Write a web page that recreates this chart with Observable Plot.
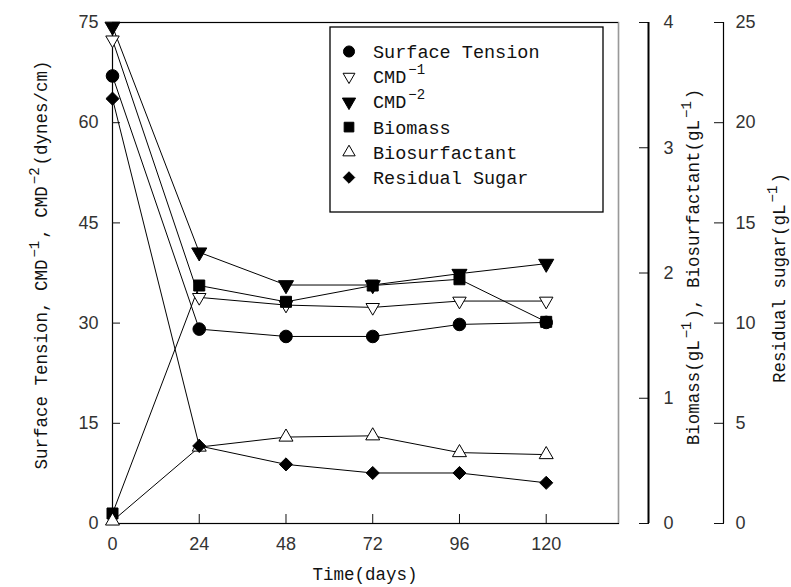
<!DOCTYPE html>
<html><head><meta charset="utf-8">
<script src="https://cdn.jsdelivr.net/npm/d3@7"></script>
<script src="https://cdn.jsdelivr.net/npm/@observablehq/plot@0.6"></script>
<style>
body{margin:0;background:#fff;}
#chart{width:791px;height:587px;}
</style></head><body><div id="chart"></div>
<script>
// ---- data ----
const days = [0, 24, 48, 72, 96, 120];
const surfaceTension = [67.0, 29.1, 28.0, 28.0, 29.8, 30.1];      // dynes/cm
const cmd1 = [72.4, 33.85, 32.7, 32.35, 33.3, 33.3];               // dynes/cm
const cmd2 = [74.4, 40.6, 35.7, 35.7, 37.4, 38.9];                 // dynes/cm
const biomass = [0.08, 1.9, 1.77, 1.9, 1.95, 1.61];                // g/L
const biosurfactant = [0.02, 0.61, 0.69, 0.70, 0.566, 0.55];       // g/L
const residualSugar = [21.2, 3.87, 2.95, 2.52, 2.52, 2.03];        // g/L

const seriesNames = ["Surface Tension", "CMD-1", "CMD-2", "Biomass", "Biosurfactant", "Residual Sugar"];
const xTicks = [0, 24, 48, 72, 96, 120];
const leftTicks = [0, 15, 30, 45, 60, 75];
const biomassTicks = [0, 1, 2, 3, 4];
const sugarTicks = [0, 5, 10, 15, 20, 25];

// conversion of right-axis units to the left (primary) scale
const leftMax = 75, bioMax = 4, sugarMax = 25;
const bioK = leftMax / bioMax, sugarK = leftMax / sugarMax;

const seriesValues = [
  surfaceTension, cmd1, cmd2,
  biomass.map(v => v * bioK),
  biosurfactant.map(v => v * bioK),
  residualSugar.map(v => v * sugarK)
];

const styles = {
  "Surface Tension": {symbol: "circle", fill: "black", stroke: "black", rotate: 0, r: 6.3},
  "CMD-1": {symbol: "triangle", fill: "white", stroke: "black", rotate: 180, r: 5},
  "CMD-2": {symbol: "triangle", fill: "black", stroke: "black", rotate: 180, r: 5.6},
  "Biomass": {symbol: "square", fill: "black", stroke: "black", rotate: 0, r: 6.2},
  "Biosurfactant": {symbol: "triangle", fill: "white", stroke: "black", rotate: 0, r: 5.2},
  "Residual Sugar": {symbol: "diamond2", fill: "black", stroke: "black", rotate: 0, r: 5.9}
};

const rows = [];
seriesNames.forEach((s, i) => days.forEach((d, j) => rows.push({series: s, day: d, v: seriesValues[i][j]})));

const numFont = "Liberation Sans";
const labFont = "Liberation Mono";

const dotMarks = seriesNames.map(s => {
  const st = styles[s];
  return Plot.dot(rows.filter(r => r.series === s), {
    x: "day", y: "v", symbol: st.symbol, fill: st.fill, stroke: st.stroke,
    strokeWidth: 1, r: st.r, rotate: st.rotate
  });
});

const svg = Plot.plot({
  width: 791, height: 587,
  marginLeft: 112, marginRight: 173, marginTop: 22, marginBottom: 64,
  style: {fontFamily: numFont, background: "white", color: "#111"},
  x: {domain: [0, 140]},
  y: {domain: [0, leftMax]},
  marks: [
    Plot.frame({stroke: "black", strokeWidth: 1.2}),
    Plot.ruleX([140], {stroke: "#999", strokeWidth: 1.2}),
    Plot.axisX({ticks: xTicks, tickSize: -9, tickPadding: 23, fontSize: 18, label: null, fill: "#333"}),
    Plot.axisY({ticks: leftTicks, tickSize: -8, tickPadding: 22, fontSize: 18, label: null, fill: "#333"}),
    Plot.axisY({anchor: "right", ticks: biomassTicks.map(v => v * bioK), tickFormat: d => String(Math.round(d / bioK)),
      dx: 30, tickSize: -10, tickPadding: 25, fontSize: 18, label: null, fill: "#333"}),
    Plot.ruleX([140], {dx: 30, y1: 0, y2: leftMax, stroke: "black", strokeWidth: 2}),
    Plot.axisY({anchor: "right", ticks: sugarTicks.map(v => v * sugarK), tickFormat: d => String(Math.round(d / sugarK)),
      dx: 105, tickSize: -10, tickPadding: 22, fontSize: 18, label: null, fill: "#333"}),
    Plot.ruleX([140], {dx: 105, y1: 0, y2: leftMax, stroke: "black", strokeWidth: 1.2}),
    Plot.line(rows, {x: "day", y: "v", z: "series", stroke: "black", strokeWidth: 1}),
    ...dotMarks
  ]
});

document.getElementById("chart").appendChild(svg);

// ---- axis titles with superscripts ----
const S = d3.select(svg);
function richText(g, parts, size, anchor, raise, supSize) {
  const t = g.append("text").attr("font-family", labFont).attr("font-size", size)
    .attr("fill", "#111").attr("text-anchor", anchor);
  let pending = 0;
  parts.forEach(p => {
    const sp = t.append("tspan").text(p.t);
    if (p.sup) {
      sp.attr("dx", 2).attr("dy", -raise).attr("font-size", supSize);
      pending = raise;
    } else if (pending) {
      sp.attr("dx", 2).attr("dy", pending);
      pending = 0;
    }
  });
  return t;
}
richText(S.append("g").attr("transform", "translate(365,580)"), [{t: "Time(days)"}], 17.5, "middle", 8, 14);
richText(S.append("g").attr("transform", "translate(47,265) rotate(-90)"),
  [{t: "Surface Tension, CMD"}, {t: "\u22121", sup: true}, {t: ", CMD"}, {t: "\u22122", sup: true}, {t: "(dynes/cm)"}], 17.5, "middle", 8, 14);
richText(S.append("g").attr("transform", "translate(699,267) rotate(-90)"),
  [{t: "Biomass(gL"}, {t: "\u22121", sup: true}, {t: "), Biosurfactant(gL"}, {t: "\u22121", sup: true}, {t: ")"}], 17.5, "middle", 8, 14);
richText(S.append("g").attr("transform", "translate(785,278) rotate(-90)"),
  [{t: "Residual sugar(gL"}, {t: "\u22121", sup: true}, {t: ")"}], 17.5, "middle", 8, 14);

// ---- legend inside the plot area ----
const legendLabels = [
  [{t: "Surface Tension"}],
  [{t: "CMD"}, {t: "\u22121", sup: true}],
  [{t: "CMD"}, {t: "\u22122", sup: true}],
  [{t: "Biomass"}],
  [{t: "Biosurfactant"}],
  [{t: "Residual Sugar"}]
];
const symMap = {circle: d3.symbolCircle, triangle: d3.symbolTriangle, square: d3.symbolSquare, diamond2: d3.symbolDiamond2};
const lg = S.append("g").attr("transform", "translate(330,27)");
lg.append("rect").attr("width", 273).attr("height", 185).attr("fill", "white").attr("stroke", "black").attr("stroke-width", 1.3);
seriesNames.forEach((s, i) => {
  const st = styles[s];
  const y = 24.5 + i * 25.2;
  const rr = st.r * 0.88;
  lg.append("path")
    .attr("d", d3.symbol(symMap[st.symbol], Math.PI * rr * rr)())
    .attr("transform", `translate(19,${y}) rotate(${st.rotate})`)
    .attr("fill", st.fill).attr("stroke", st.stroke).attr("stroke-width", 1);
  const g = lg.append("g").attr("transform", `translate(43,${y + 6.5})`);
  richText(g, legendLabels[i], 18.5, "start", 9, 14);
});
</script>
</body></html>
